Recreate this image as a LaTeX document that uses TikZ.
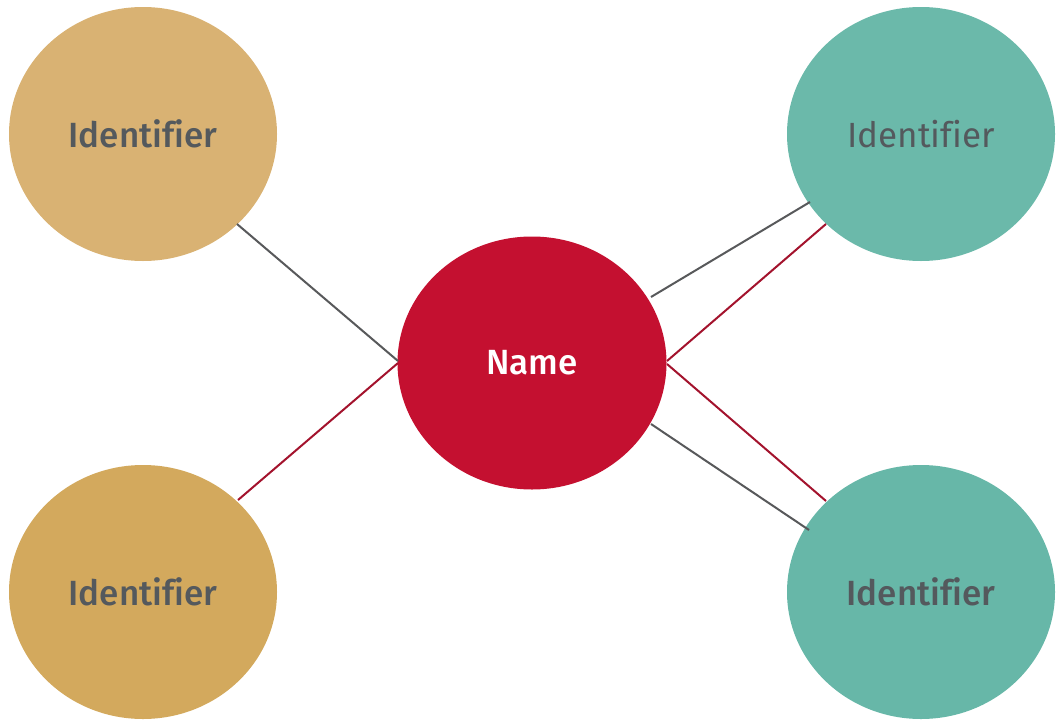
\documentclass[tikz,border=0pt]{standalone}
\usepackage{fontspec}
\setmainfont{Fira Sans}[Ligatures=NoCommon, BoldFont={* Medium}]
\usetikzlibrary{shapes.geometric}
\definecolor{tanA}{HTML}{D9B273}
\definecolor{tanB}{HTML}{D3A95D}
\definecolor{tealA}{HTML}{6BB9AA}
\definecolor{tealB}{HTML}{67B7A8}
\definecolor{redC}{HTML}{C41030}
\definecolor{lineGray}{HTML}{58595B}
\definecolor{lineRed}{HTML}{A3132D}
\definecolor{txtGray}{HTML}{54595D}
\tikzset{
  blob/.style={ellipse, minimum width=268pt, minimum height=254pt, inner sep=0pt, font=\fontsize{35}{40}\selectfont},
  gline/.style={draw=lineGray, line width=2pt},
  rline/.style={draw=lineRed, line width=2pt},
}
\begin{document}
\begin{tikzpicture}[x=1pt,y=-1pt]
\useasboundingbox (0,0) rectangle (1057,720);
\node[blob, fill=tanA, text=txtGray] (tl) at (143,134) {\bfseries Identifier};
\node[blob, fill=tanB, text=txtGray] (bl) at (143,592) {\bfseries Identifier};
\node[blob, fill=tealA, text=txtGray] (tr) at (921,134) {Identifier};
\node[blob, fill=tealB, text=txtGray] (br) at (921,592) {\bfseries Identifier};
\node[blob, fill=redC, text=white, minimum width=269pt, minimum height=253pt] (c) at (532,363) {\bfseries Name};
\coordinate (c1) at (398,361);
\coordinate (c2) at (398,363);
\coordinate (c3) at (667,361);
\coordinate (c4) at (667,364);
\coordinate (c5) at (651,297);
\coordinate (c6) at (651,424);
\coordinate (t1) at (237,224);
\coordinate (b1) at (238,500);
\coordinate (t2) at (810,202);
\coordinate (t3) at (826,224);
\coordinate (b3) at (826,501);
\coordinate (b2) at (809,530);
\draw[gline] (t1) -- (c1);
\draw[rline] (b1) -- (c2);
\draw[gline] (c5) -- (t2);
\draw[rline] (c3) -- (t3);
\draw[rline] (c4) -- (b3);
\draw[gline] (c6) -- (b2);
\end{tikzpicture}
\end{document}
